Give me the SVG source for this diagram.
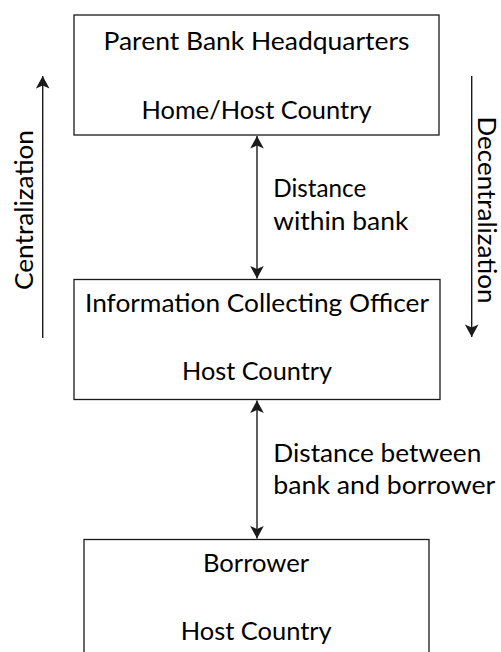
<svg xmlns="http://www.w3.org/2000/svg" width="501" height="652" viewBox="0 0 501 652">
  <defs>
    <style>
      .box { fill: #ffffff; stroke: #1a1a1a; stroke-width: 1.3; }
      .label { font-family: Lato, "Liberation Sans", "DejaVu Sans", sans-serif; font-size: 24.5px; fill: #000000; }
      .mid { text-anchor: middle; }
      .line { stroke: #1a1a1a; stroke-width: 1.4; fill: none; }
    </style>
    <marker id="head" viewBox="-13 -7 14 14" markerUnits="userSpaceOnUse" markerWidth="14" markerHeight="14" refX="0" refY="0" orient="auto-start-reverse">
      <path d="M0,0 L-12.5,-6.8 L-9.5,0 L-12.5,6.8 Z" fill="#1a1a1a"/>
    </marker>
  </defs>

  <rect width="501" height="652" fill="#ffffff"/>

  <!-- top-level office -->
  <g id="parent-hq">
    <rect class="box" x="74" y="15" width="365" height="120"/>
    <text class="label mid" x="256.5" y="50" textLength="306" lengthAdjust="spacingAndGlyphs">Parent Bank Headquarters</text>
    <text class="label mid" x="256.5" y="118.5" textLength="230" lengthAdjust="spacingAndGlyphs">Home/Host Country</text>
  </g>

  <!-- local loan officer -->
  <g id="info-officer">
    <rect class="box" x="74" y="279.5" width="366" height="120"/>
    <text class="label mid" x="257" y="311.7" textLength="344" lengthAdjust="spacingAndGlyphs">Information Collecting Officer</text>
    <text class="label mid" x="257" y="379.5" textLength="150" lengthAdjust="spacingAndGlyphs">Host Country</text>
  </g>

  <!-- customer -->
  <g id="borrower">
    <rect class="box" x="84" y="539.5" width="345" height="130"/>
    <text class="label mid" x="256" y="571.7" textLength="106" lengthAdjust="spacingAndGlyphs">Borrower</text>
    <text class="label mid" x="256.2" y="640" textLength="151" lengthAdjust="spacingAndGlyphs">Host Country</text>
  </g>

  <!-- distance connectors between levels -->
  <g id="connectors">
    <line class="line" x1="257" y1="136" x2="257" y2="278.5" marker-start="url(#head)" marker-end="url(#head)"/>
    <text class="label" x="273.3" y="196.7" textLength="93" lengthAdjust="spacingAndGlyphs">Distance</text>
    <text class="label" x="273.3" y="229.5" textLength="135" lengthAdjust="spacingAndGlyphs">within bank</text>

    <line class="line" x1="257" y1="400.5" x2="257" y2="538.5" marker-start="url(#head)" marker-end="url(#head)"/>
    <text class="label" x="273.3" y="461.7" textLength="208" lengthAdjust="spacingAndGlyphs">Distance between</text>
    <text class="label" x="273.3" y="493.5" textLength="222" lengthAdjust="spacingAndGlyphs">bank and borrower</text>
  </g>

  <!-- direction of decision authority -->
  <g id="trend-arrows">
    <line class="line" x1="42.7" y1="338" x2="42.7" y2="76" marker-end="url(#head)"/>
    <text class="label mid" transform="translate(33,210) rotate(-90)" textLength="160" lengthAdjust="spacingAndGlyphs">Centralization</text>

    <line class="line" x1="471.7" y1="76" x2="471.7" y2="337" marker-end="url(#head)"/>
    <text class="label mid" transform="translate(478,210) rotate(90)" textLength="187" lengthAdjust="spacingAndGlyphs">Decentralization</text>
  </g>
</svg>
